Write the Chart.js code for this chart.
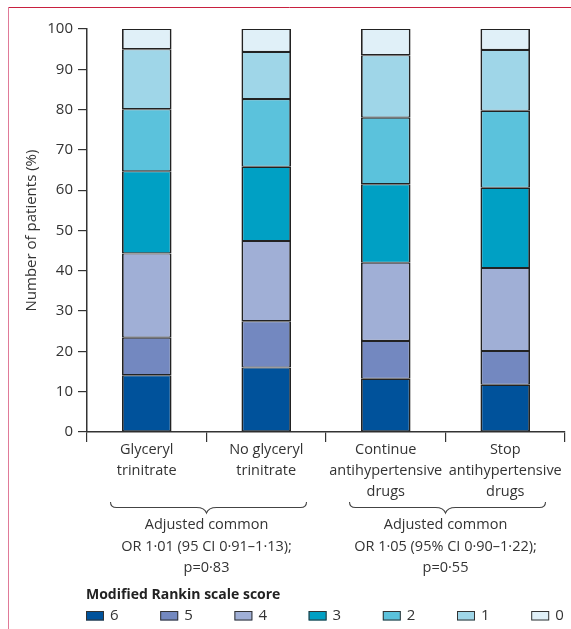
<!DOCTYPE html>
<html>
<head>
<meta charset="utf-8">
<script src="https://cdn.jsdelivr.net/npm/chart.js@4.4.1/dist/chart.umd.min.js"></script>
<style>
  html, body { margin: 0; padding: 0; background: #fff; }
  #wrap { width: 571px; height: 629px; }
</style>
</head>
<body>
<div id="wrap"><canvas id="mrsChart" width="571" height="629"></canvas></div>
<script>
// categories (x axis) and the mRS shares per category
const categories = [
    ['Glyceryl', 'trinitrate'],
    ['No glyceryl', 'trinitrate'],
    ['Continue', 'antihypertensive', 'drugs'],
    ['Stop', 'antihypertensive', 'drugs']
];
const mrs6 = [14.1, 16.0, 13.2, 11.7];
const mrs5 = [9.3, 11.5, 9.4, 8.4];
const mrs4 = [20.9, 19.9, 19.4, 20.6];
const mrs3 = [20.4, 18.4, 19.5, 19.9];
const mrs2 = [15.4, 16.8, 16.5, 19.1];
const mrs1 = [14.9, 11.7, 15.5, 15.1];
const mrs0 = [5.0, 5.7, 6.5, 5.2];
const yTicks = [0, 10, 20, 30, 40, 50, 60, 70, 80, 90, 100];

const legendTitle = 'Modified Rankin scale score';
const comparisons = [
    { from: 0, to: 1, lines: ['Adjusted common', 'OR 1·01 (95 CI 0·91–1·13);', 'p=0·83'] },
    { from: 2, to: 3, lines: ['Adjusted common', 'OR 1·05 (95% CI 0·90–1·22);', 'p=0·55'] }
];

const FONT = '"Open Sans", "DejaVu Sans", sans-serif';
const INK = '#333333';

function series(label, data, color) {
    return {
        label: label,
        data: data,
        backgroundColor: color,
        borderColor: '#222222',
        borderWidth: { top: 1.1, bottom: 1.1, left: 1.8, right: 1.8 },
        borderSkipped: false,
        categoryPercentage: 1.0,
        barPercentage: 0.415
    };
}

// white page + pink frame lines
const framePlugin = {
    id: 'frame',
    beforeDraw(chart) {
        const c = chart.ctx;
        c.save();
        c.fillStyle = '#fff';
        c.fillRect(0, 0, chart.width, chart.height);
        c.lineWidth = 1;
        c.strokeStyle = '#c8203f';
        c.beginPath();
        c.moveTo(8, 7.5);
        c.lineTo(chart.width, 7.5);
        c.stroke();
        c.strokeStyle = '#e07a98';
        c.beginPath();
        c.moveTo(8.5, 7);
        c.lineTo(8.5, chart.height);
        c.stroke();
        c.restore();
    }
};

// curly braces under the pairs + the OR text
const bracePlugin = {
    id: 'braces',
    afterDraw(chart) {
        const c = chart.ctx;
        const x = chart.scales.x;
        c.save();
        comparisons.forEach(cmp => {
            const mid = (x.getPixelForValue(cmp.from) + x.getPixelForValue(cmp.to)) / 2;
            const l = mid - 96, r = mid + 100;
            const yTop = 502, yLine = 507.5, yTip = 513;
            c.strokeStyle = '#444';
            c.lineWidth = 1.1;
            c.beginPath();
            c.moveTo(l, yTop);
            c.quadraticCurveTo(l, yLine, l + 6, yLine);
            c.lineTo(mid - 10, yLine);
            c.quadraticCurveTo(mid - 2, yLine, mid, yTip);
            c.quadraticCurveTo(mid + 2, yLine, mid + 10, yLine);
            c.lineTo(r - 6, yLine);
            c.quadraticCurveTo(r, yLine, r, yTop);
            c.stroke();

            c.fillStyle = INK;
            c.font = '14.5px ' + FONT;
            c.textAlign = 'center';
            c.textBaseline = 'middle';
            cmp.lines.forEach((t, i) => c.fillText(t, mid, 525 + i * 21.5));
        });
        c.restore();
    }
};

// legend row: title + 7 swatches, 6 first
const legendPlugin = {
    id: 'mrsLegend',
    afterDraw(chart) {
        const c = chart.ctx;
        c.save();
        c.fillStyle = '#222';
        c.font = 'bold 14px ' + FONT;
        c.textAlign = 'left';
        c.textBaseline = 'middle';
        c.fillText(legendTitle, 86, 595);
        chart.data.datasets.forEach((ds, i) => {
            const bx = 86 + i * 74.2, by = 611;
            c.fillStyle = ds.backgroundColor;
            c.fillRect(bx, by, 18, 9.5);
            c.strokeStyle = '#333';
            c.lineWidth = 1;
            c.strokeRect(bx + 0.5, by + 0.5, 17, 8.5);
            c.fillStyle = INK;
            c.font = '15px ' + FONT;
            c.fillText(ds.label, bx + 24, by + 5);
        });
        c.restore();
    }
};

new Chart(document.getElementById('mrsChart'), {
    type: 'bar',
    data: {
        labels: categories,
        datasets: [
            series('6', mrs6, '#00529b'),
            series('5', mrs5, '#7388c0'),
            series('4', mrs4, '#a0afd6'),
            series('3', mrs3, '#00a0c4'),
            series('2', mrs2, '#5bc2dc'),
            series('1', mrs1, '#9fd6e8'),
            series('0', mrs0, '#e0f0f8')
        ]
    },
    options: {
        responsive: false,
        animation: false,
        layout: { padding: { top: 29, right: 6, bottom: 0, left: 18 } },
        plugins: {
            legend: { display: false },
            tooltip: { enabled: false }
        },
        scales: {
            x: {
                stacked: true,
                afterFit(scale) { scale.height = 197; },
                grid: {
                    drawOnChartArea: false,
                    tickLength: 10,
                    color: INK,
                    lineWidth: 1.2,
                    offset: true
                },
                border: { display: true, color: INK, width: 1.5 },
                ticks: {
                    color: INK,
                    padding: -3,
                    maxRotation: 0,
                    autoSkip: false,
                    font: { family: FONT, size: 14.5, lineHeight: 1.47 }
                }
            },
            y: {
                stacked: true,
                min: 0,
                max: 100,
                afterFit(scale) { scale.width = 69; },
                afterBuildTicks(scale) { scale.ticks = yTicks.map(v => ({ value: v })); },
                grid: {
                    drawOnChartArea: false,
                    tickLength: 9,
                    color: INK,
                    lineWidth: 1.2
                },
                border: { display: true, color: INK, width: 1.5 },
                ticks: {
                    color: INK,
                    padding: 5,
                    font: { family: FONT, size: 15 }
                },
                title: {
                    display: true,
                    text: 'Number of patients (%)',
                    color: INK,
                    padding: { top: 5, bottom: 0 },
                    font: { family: FONT, size: 15 }
                }
            }
        }
    },
    plugins: [framePlugin, bracePlugin, legendPlugin]
});
</script>
</body>
</html>
